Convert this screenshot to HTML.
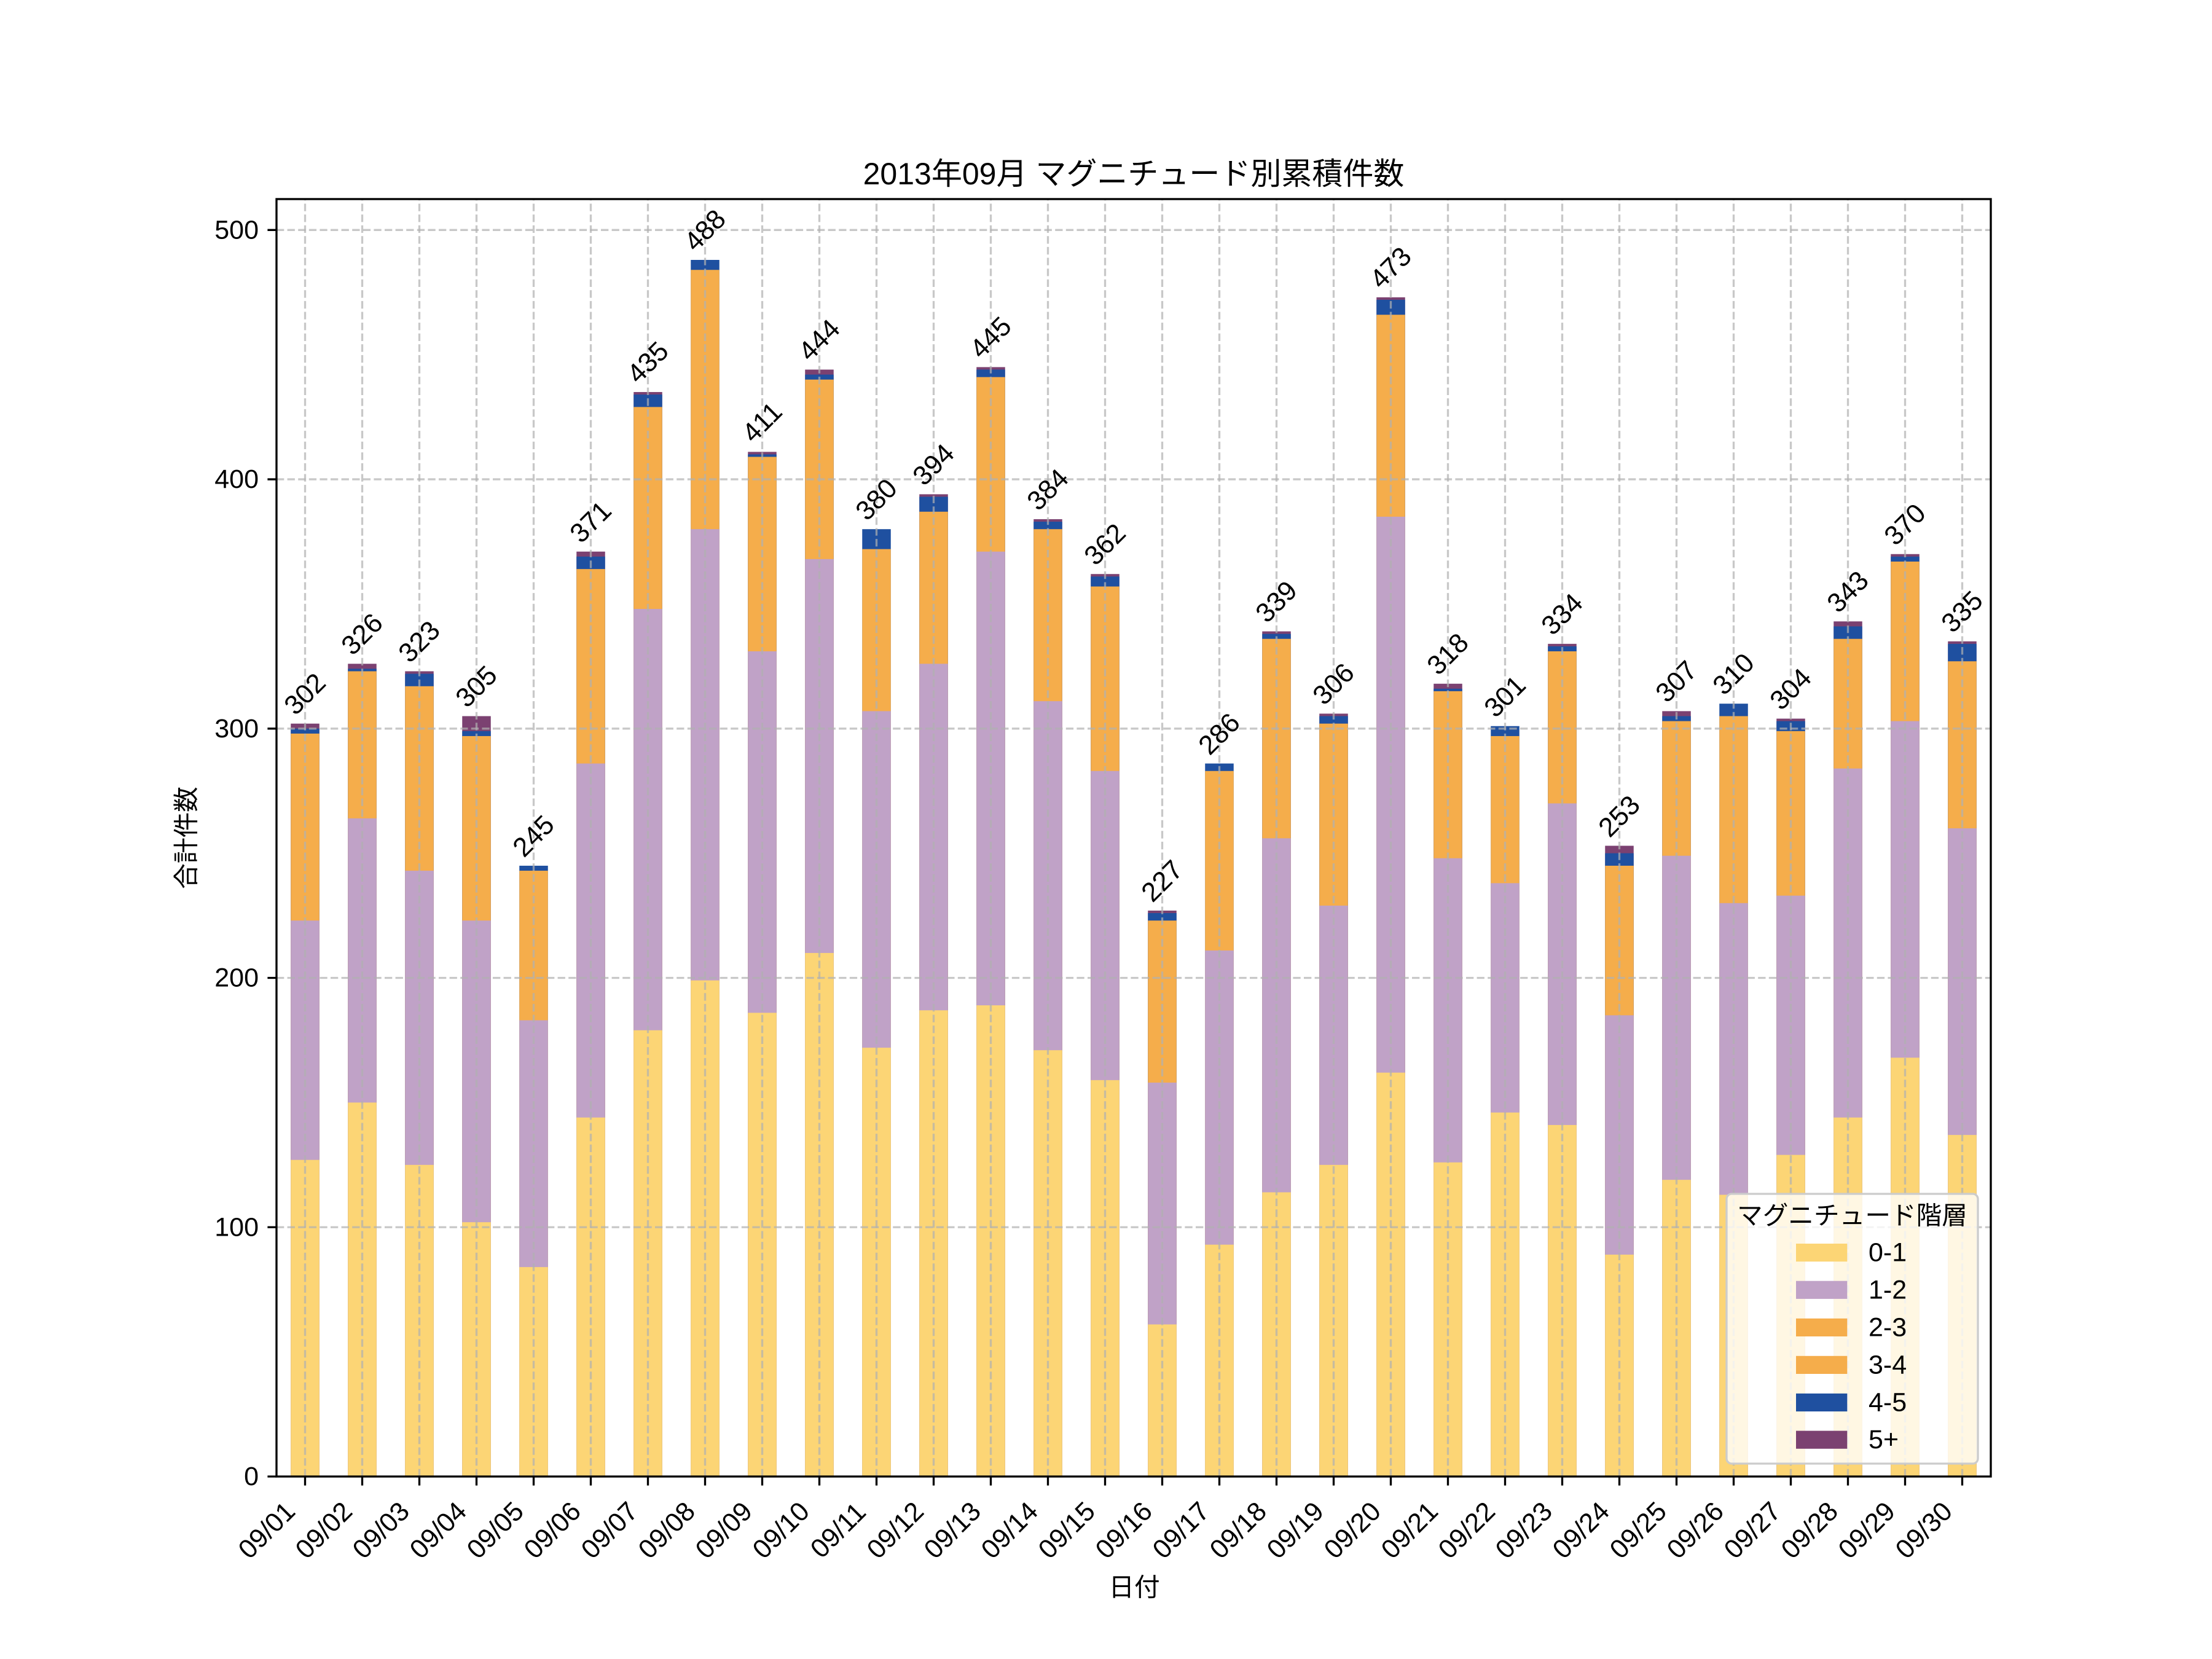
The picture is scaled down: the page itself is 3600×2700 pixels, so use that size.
<!DOCTYPE html>
<html><head><meta charset="utf-8"><style>
html,body{margin:0;padding:0;background:#fff;}
svg{display:block;}
.t{font-family:"Liberation Sans","Noto Sans CJK JP",sans-serif;fill:#000;}
.a{fill:#7b4171}.b{fill:#1f50a0}.o{fill:#f5ad4b}.p{fill:#c0a2c7}.y{fill:#fcd575}
.g{stroke:#b0b0b0;stroke-opacity:0.7;stroke-width:3.33;stroke-dasharray:12.3 5.3;fill:none}
</style></head><body>
<svg width="3600" height="2700" viewBox="0 0 3600 2700" xmlns="http://www.w3.org/2000/svg">
<rect width="3600" height="2700" fill="#fff"/>
<g transform="translate(0,2403) scale(1,-4.05738)">
<g transform="translate(473.25,0)"><rect width="46.5" height="302" class="a"/><rect width="46.5" height="300" class="b"/><rect width="46.5" height="298" class="o"/><rect width="46.5" height="223" class="p"/><rect width="46.5" height="127" class="y"/></g>
<g transform="translate(566.25,0)"><rect width="46.5" height="326" class="a"/><rect width="46.5" height="324" class="b"/><rect width="46.5" height="323" class="o"/><rect width="46.5" height="264" class="p"/><rect width="46.5" height="150" class="y"/></g>
<g transform="translate(659.25,0)"><rect width="46.5" height="323" class="a"/><rect width="46.5" height="322" class="b"/><rect width="46.5" height="317" class="o"/><rect width="46.5" height="243" class="p"/><rect width="46.5" height="125" class="y"/></g>
<g transform="translate(752.25,0)"><rect width="46.5" height="305" class="a"/><rect width="46.5" height="299" class="b"/><rect width="46.5" height="297" class="o"/><rect width="46.5" height="223" class="p"/><rect width="46.5" height="102" class="y"/></g>
<g transform="translate(845.25,0)"><rect width="46.5" height="245" class="b"/><rect width="46.5" height="243" class="o"/><rect width="46.5" height="183" class="p"/><rect width="46.5" height="84" class="y"/></g>
<g transform="translate(938.25,0)"><rect width="46.5" height="371" class="a"/><rect width="46.5" height="369" class="b"/><rect width="46.5" height="364" class="o"/><rect width="46.5" height="286" class="p"/><rect width="46.5" height="144" class="y"/></g>
<g transform="translate(1031.25,0)"><rect width="46.5" height="435" class="a"/><rect width="46.5" height="434" class="b"/><rect width="46.5" height="429" class="o"/><rect width="46.5" height="348" class="p"/><rect width="46.5" height="179" class="y"/></g>
<g transform="translate(1124.25,0)"><rect width="46.5" height="488" class="b"/><rect width="46.5" height="484" class="o"/><rect width="46.5" height="380" class="p"/><rect width="46.5" height="199" class="y"/></g>
<g transform="translate(1217.25,0)"><rect width="46.5" height="411" class="a"/><rect width="46.5" height="410" class="b"/><rect width="46.5" height="409" class="o"/><rect width="46.5" height="331" class="p"/><rect width="46.5" height="186" class="y"/></g>
<g transform="translate(1310.25,0)"><rect width="46.5" height="444" class="a"/><rect width="46.5" height="442" class="b"/><rect width="46.5" height="440" class="o"/><rect width="46.5" height="368" class="p"/><rect width="46.5" height="210" class="y"/></g>
<g transform="translate(1403.25,0)"><rect width="46.5" height="380" class="b"/><rect width="46.5" height="372" class="o"/><rect width="46.5" height="307" class="p"/><rect width="46.5" height="172" class="y"/></g>
<g transform="translate(1496.25,0)"><rect width="46.5" height="394" class="a"/><rect width="46.5" height="393" class="b"/><rect width="46.5" height="387" class="o"/><rect width="46.5" height="326" class="p"/><rect width="46.5" height="187" class="y"/></g>
<g transform="translate(1589.25,0)"><rect width="46.5" height="445" class="a"/><rect width="46.5" height="444" class="b"/><rect width="46.5" height="441" class="o"/><rect width="46.5" height="371" class="p"/><rect width="46.5" height="189" class="y"/></g>
<g transform="translate(1682.25,0)"><rect width="46.5" height="384" class="a"/><rect width="46.5" height="383" class="b"/><rect width="46.5" height="380" class="o"/><rect width="46.5" height="311" class="p"/><rect width="46.5" height="171" class="y"/></g>
<g transform="translate(1775.25,0)"><rect width="46.5" height="362" class="a"/><rect width="46.5" height="361" class="b"/><rect width="46.5" height="357" class="o"/><rect width="46.5" height="283" class="p"/><rect width="46.5" height="159" class="y"/></g>
<g transform="translate(1868.25,0)"><rect width="46.5" height="227" class="a"/><rect width="46.5" height="226" class="b"/><rect width="46.5" height="223" class="o"/><rect width="46.5" height="158" class="p"/><rect width="46.5" height="61" class="y"/></g>
<g transform="translate(1961.25,0)"><rect width="46.5" height="286" class="b"/><rect width="46.5" height="283" class="o"/><rect width="46.5" height="211" class="p"/><rect width="46.5" height="93" class="y"/></g>
<g transform="translate(2054.25,0)"><rect width="46.5" height="339" class="a"/><rect width="46.5" height="338" class="b"/><rect width="46.5" height="336" class="o"/><rect width="46.5" height="256" class="p"/><rect width="46.5" height="114" class="y"/></g>
<g transform="translate(2147.25,0)"><rect width="46.5" height="306" class="a"/><rect width="46.5" height="305" class="b"/><rect width="46.5" height="302" class="o"/><rect width="46.5" height="229" class="p"/><rect width="46.5" height="125" class="y"/></g>
<g transform="translate(2240.25,0)"><rect width="46.5" height="473" class="a"/><rect width="46.5" height="472" class="b"/><rect width="46.5" height="466" class="o"/><rect width="46.5" height="385" class="p"/><rect width="46.5" height="162" class="y"/></g>
<g transform="translate(2333.25,0)"><rect width="46.5" height="318" class="a"/><rect width="46.5" height="316" class="b"/><rect width="46.5" height="315" class="o"/><rect width="46.5" height="248" class="p"/><rect width="46.5" height="126" class="y"/></g>
<g transform="translate(2426.25,0)"><rect width="46.5" height="301" class="b"/><rect width="46.5" height="297" class="o"/><rect width="46.5" height="238" class="p"/><rect width="46.5" height="146" class="y"/></g>
<g transform="translate(2519.25,0)"><rect width="46.5" height="334" class="a"/><rect width="46.5" height="333" class="b"/><rect width="46.5" height="331" class="o"/><rect width="46.5" height="270" class="p"/><rect width="46.5" height="141" class="y"/></g>
<g transform="translate(2612.25,0)"><rect width="46.5" height="253" class="a"/><rect width="46.5" height="250" class="b"/><rect width="46.5" height="245" class="o"/><rect width="46.5" height="185" class="p"/><rect width="46.5" height="89" class="y"/></g>
<g transform="translate(2705.25,0)"><rect width="46.5" height="307" class="a"/><rect width="46.5" height="305" class="b"/><rect width="46.5" height="303" class="o"/><rect width="46.5" height="249" class="p"/><rect width="46.5" height="119" class="y"/></g>
<g transform="translate(2798.25,0)"><rect width="46.5" height="310" class="b"/><rect width="46.5" height="305" class="o"/><rect width="46.5" height="230" class="p"/><rect width="46.5" height="113" class="y"/></g>
<g transform="translate(2891.25,0)"><rect width="46.5" height="304" class="a"/><rect width="46.5" height="303" class="b"/><rect width="46.5" height="299" class="o"/><rect width="46.5" height="233" class="p"/><rect width="46.5" height="129" class="y"/></g>
<g transform="translate(2984.25,0)"><rect width="46.5" height="343" class="a"/><rect width="46.5" height="341" class="b"/><rect width="46.5" height="336" class="o"/><rect width="46.5" height="284" class="p"/><rect width="46.5" height="144" class="y"/></g>
<g transform="translate(3077.25,0)"><rect width="46.5" height="370" class="a"/><rect width="46.5" height="369" class="b"/><rect width="46.5" height="367" class="o"/><rect width="46.5" height="303" class="p"/><rect width="46.5" height="168" class="y"/></g>
<g transform="translate(3170.25,0)"><rect width="46.5" height="335" class="a"/><rect width="46.5" height="334" class="b"/><rect width="46.5" height="327" class="o"/><rect width="46.5" height="260" class="p"/><rect width="46.5" height="137" class="y"/></g>
</g>
<!-- grid -->
<g class="g">
<path d="M450 1997.26H3240M450 1591.52H3240M450 1185.79H3240M450 780.05H3240M450 374.31H3240"/>
<path d="M496.5 2403V324M589.5 2403V324M682.5 2403V324M775.5 2403V324M868.5 2403V324M961.5 2403V324M1054.5 2403V324M1147.5 2403V324M1240.5 2403V324M1333.5 2403V324M1426.5 2403V324M1519.5 2403V324M1612.5 2403V324M1705.5 2403V324M1798.5 2403V324M1891.5 2403V324M1984.5 2403V324M2077.5 2403V324M2170.5 2403V324M2263.5 2403V324M2356.5 2403V324M2449.5 2403V324M2542.5 2403V324M2635.5 2403V324M2728.5 2403V324M2821.5 2403V324M2914.5 2403V324M3007.5 2403V324M3100.5 2403V324M3193.5 2403V324"/>
</g>
<!-- bar labels -->
<g class="t" font-size="44" text-anchor="middle" dominant-baseline="central">
<text x="496.5" y="1129.7" transform="rotate(-45 496.5 1129.7)">302</text>
<text x="589.5" y="1032.3" transform="rotate(-45 589.5 1032.3)">326</text>
<text x="682.5" y="1044.5" transform="rotate(-45 682.5 1044.5)">323</text>
<text x="775.5" y="1117.5" transform="rotate(-45 775.5 1117.5)">305</text>
<text x="868.5" y="1360.9" transform="rotate(-45 868.5 1360.9)">245</text>
<text x="961.5" y="849.7" transform="rotate(-45 961.5 849.7)">371</text>
<text x="1054.5" y="590" transform="rotate(-45 1054.5 590)">435</text>
<text x="1147.5" y="375" transform="rotate(-45 1147.5 375)">488</text>
<text x="1240.5" y="687.4" transform="rotate(-45 1240.5 687.4)">411</text>
<text x="1333.5" y="553.5" transform="rotate(-45 1333.5 553.5)">444</text>
<text x="1426.5" y="813.2" transform="rotate(-45 1426.5 813.2)">380</text>
<text x="1519.5" y="756.4" transform="rotate(-45 1519.5 756.4)">394</text>
<text x="1612.5" y="549.5" transform="rotate(-45 1612.5 549.5)">445</text>
<text x="1705.5" y="797" transform="rotate(-45 1705.5 797)">384</text>
<text x="1798.5" y="886.2" transform="rotate(-45 1798.5 886.2)">362</text>
<text x="1891.5" y="1434" transform="rotate(-45 1891.5 1434)">227</text>
<text x="1984.5" y="1194.6" transform="rotate(-45 1984.5 1194.6)">286</text>
<text x="2077.5" y="979.5" transform="rotate(-45 2077.5 979.5)">339</text>
<text x="2170.5" y="1113.4" transform="rotate(-45 2170.5 1113.4)">306</text>
<text x="2263.5" y="435.9" transform="rotate(-45 2263.5 435.9)">473</text>
<text x="2356.5" y="1064.7" transform="rotate(-45 2356.5 1064.7)">318</text>
<text x="2449.5" y="1133.7" transform="rotate(-45 2449.5 1133.7)">301</text>
<text x="2542.5" y="999.8" transform="rotate(-45 2542.5 999.8)">334</text>
<text x="2635.5" y="1328.5" transform="rotate(-45 2635.5 1328.5)">253</text>
<text x="2728.5" y="1109.4" transform="rotate(-45 2728.5 1109.4)">307</text>
<text x="2821.5" y="1097.2" transform="rotate(-45 2821.5 1097.2)">310</text>
<text x="2914.5" y="1121.6" transform="rotate(-45 2914.5 1121.6)">304</text>
<text x="3007.5" y="963.3" transform="rotate(-45 3007.5 963.3)">343</text>
<text x="3100.5" y="853.8" transform="rotate(-45 3100.5 853.8)">370</text>
<text x="3193.5" y="995.8" transform="rotate(-45 3193.5 995.8)">335</text>
</g>
<!-- legend -->
<rect x="2810" y="1943" width="409" height="439" rx="8.3" ry="8.3" fill="#fff" fill-opacity="0.8" stroke="#cccccc" stroke-width="3.33"/>
<text class="t" x="3014.5" y="1978" font-size="41.67" text-anchor="middle" dominant-baseline="central">マグニチュード階層</text>
<rect x="2923" y="2024" width="83.3" height="29.2" class="y"/>
<rect x="2923" y="2084.7" width="83.3" height="29.2" class="p"/>
<rect x="2923" y="2145.8" width="83.3" height="29.2" class="o"/>
<rect x="2923" y="2206.8" width="83.3" height="29.2" class="o"/>
<rect x="2923" y="2267.9" width="83.3" height="29.2" class="b"/>
<rect x="2923" y="2328.6" width="83.3" height="29.2" class="a"/>
<g class="t" font-size="43" dominant-baseline="central">
<text x="3041" y="2038.6">0-1</text>
<text x="3041" y="2099.3">1-2</text>
<text x="3041" y="2160.4">2-3</text>
<text x="3041" y="2221.4">3-4</text>
<text x="3041" y="2282.5">4-5</text>
<text x="3041" y="2343.2">5+</text>
</g>
<!-- spines -->
<rect x="450" y="324" width="2790" height="2079" fill="none" stroke="#000" stroke-width="3.33" stroke-linejoin="miter"/>
<!-- ticks -->
<g stroke="#000" stroke-width="3.33">
<path d="M435.4 2403H450M435.4 1997.26H450M435.4 1591.52H450M435.4 1185.79H450M435.4 780.05H450M435.4 374.31H450"/>
<path d="M496.5 2403v14.6M589.5 2403v14.6M682.5 2403v14.6M775.5 2403v14.6M868.5 2403v14.6M961.5 2403v14.6M1054.5 2403v14.6M1147.5 2403v14.6M1240.5 2403v14.6M1333.5 2403v14.6M1426.5 2403v14.6M1519.5 2403v14.6M1612.5 2403v14.6M1705.5 2403v14.6M1798.5 2403v14.6M1891.5 2403v14.6M1984.5 2403v14.6M2077.5 2403v14.6M2170.5 2403v14.6M2263.5 2403v14.6M2356.5 2403v14.6M2449.5 2403v14.6M2542.5 2403v14.6M2635.5 2403v14.6M2728.5 2403v14.6M2821.5 2403v14.6M2914.5 2403v14.6M3007.5 2403v14.6M3100.5 2403v14.6M3193.5 2403v14.6"/>
</g>
<!-- y tick labels -->
<g class="t" font-size="43" text-anchor="end" dominant-baseline="central">
<text x="421" y="2403">0</text>
<text x="421" y="1997.26">100</text>
<text x="421" y="1591.52">200</text>
<text x="421" y="1185.79">300</text>
<text x="421" y="780.05">400</text>
<text x="421" y="374.31">500</text>
</g>
<!-- x tick labels -->
<g class="t" font-size="43.5" text-anchor="middle" dominant-baseline="central">
<text x="434.5" y="2491" transform="rotate(-45 434.5 2491)">09/01</text>
<text x="527.5" y="2491" transform="rotate(-45 527.5 2491)">09/02</text>
<text x="620.5" y="2491" transform="rotate(-45 620.5 2491)">09/03</text>
<text x="713.5" y="2491" transform="rotate(-45 713.5 2491)">09/04</text>
<text x="806.5" y="2491" transform="rotate(-45 806.5 2491)">09/05</text>
<text x="899.5" y="2491" transform="rotate(-45 899.5 2491)">09/06</text>
<text x="992.5" y="2491" transform="rotate(-45 992.5 2491)">09/07</text>
<text x="1085.5" y="2491" transform="rotate(-45 1085.5 2491)">09/08</text>
<text x="1178.5" y="2491" transform="rotate(-45 1178.5 2491)">09/09</text>
<text x="1271.5" y="2491" transform="rotate(-45 1271.5 2491)">09/10</text>
<text x="1364.5" y="2491" transform="rotate(-45 1364.5 2491)">09/11</text>
<text x="1457.5" y="2491" transform="rotate(-45 1457.5 2491)">09/12</text>
<text x="1550.5" y="2491" transform="rotate(-45 1550.5 2491)">09/13</text>
<text x="1643.5" y="2491" transform="rotate(-45 1643.5 2491)">09/14</text>
<text x="1736.5" y="2491" transform="rotate(-45 1736.5 2491)">09/15</text>
<text x="1829.5" y="2491" transform="rotate(-45 1829.5 2491)">09/16</text>
<text x="1922.5" y="2491" transform="rotate(-45 1922.5 2491)">09/17</text>
<text x="2015.5" y="2491" transform="rotate(-45 2015.5 2491)">09/18</text>
<text x="2108.5" y="2491" transform="rotate(-45 2108.5 2491)">09/19</text>
<text x="2201.5" y="2491" transform="rotate(-45 2201.5 2491)">09/20</text>
<text x="2294.5" y="2491" transform="rotate(-45 2294.5 2491)">09/21</text>
<text x="2387.5" y="2491" transform="rotate(-45 2387.5 2491)">09/22</text>
<text x="2480.5" y="2491" transform="rotate(-45 2480.5 2491)">09/23</text>
<text x="2573.5" y="2491" transform="rotate(-45 2573.5 2491)">09/24</text>
<text x="2666.5" y="2491" transform="rotate(-45 2666.5 2491)">09/25</text>
<text x="2759.5" y="2491" transform="rotate(-45 2759.5 2491)">09/26</text>
<text x="2852.5" y="2491" transform="rotate(-45 2852.5 2491)">09/27</text>
<text x="2945.5" y="2491" transform="rotate(-45 2945.5 2491)">09/28</text>
<text x="3038.5" y="2491" transform="rotate(-45 3038.5 2491)">09/29</text>
<text x="3131.5" y="2491" transform="rotate(-45 3131.5 2491)">09/30</text>
</g>
<!-- axis labels and title -->
<text class="t" x="1846" y="2583" font-size="41.67" text-anchor="middle" dominant-baseline="central">日付</text>
<text class="t" x="303" y="1363.5" font-size="41.67" text-anchor="middle" dominant-baseline="central" transform="rotate(-90 303 1363.5)">合計件数</text>
<text class="t" x="1845" y="300" font-size="50" text-anchor="middle">2013年09月 マグニチュード別累積件数</text>
</svg>
</body></html>
